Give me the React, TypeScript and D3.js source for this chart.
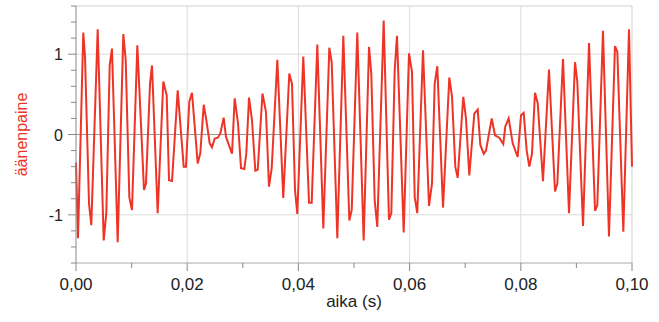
import React from "react";
import * as d3 from "d3";

const times = [
  0.0, 0.00036, 0.00131, 0.00162, 0.00234, 0.00275, 0.0039, 0.00498, 0.00545, 0.00606,
  0.00647, 0.0075, 0.00851, 0.00894, 0.00959, 0.01007, 0.01103, 0.01223, 0.01259, 0.01331,
  0.01367, 0.01469, 0.0157, 0.01631, 0.01673, 0.01727, 0.01829, 0.01937, 0.01978, 0.02038,
  0.02086, 0.02189, 0.02236, 0.02297, 0.02344, 0.02405, 0.02446, 0.02495, 0.02549, 0.02595,
  0.02656, 0.02698, 0.02806, 0.02854, 0.02914, 0.02968, 0.03027, 0.03063, 0.03112, 0.03165,
  0.03225, 0.03268, 0.03354, 0.03417, 0.03471, 0.0352, 0.03621, 0.03728, 0.03836, 0.03885,
  0.03939, 0.0398, 0.04088, 0.04191, 0.04239, 0.0434, 0.04448, 0.04556, 0.04599, 0.047,
  0.04808, 0.04916, 0.04959, 0.05059, 0.05174, 0.0527, 0.05311, 0.05372, 0.05419, 0.05534,
  0.05629, 0.05671, 0.05732, 0.05773, 0.05894, 0.05989, 0.06043, 0.06092, 0.06138, 0.06241,
  0.06349, 0.06403, 0.06451, 0.06498, 0.06601, 0.06714, 0.06763, 0.06822, 0.06865, 0.06966,
  0.07014, 0.07074, 0.07164, 0.07225, 0.07272, 0.07333, 0.07374, 0.07477, 0.07536, 0.07613,
  0.07685, 0.07721, 0.07782, 0.07854, 0.07944, 0.08004, 0.08052, 0.08106, 0.08153, 0.08201,
  0.08255, 0.08304, 0.08399, 0.08507, 0.08615, 0.08657, 0.08759, 0.08867, 0.08975, 0.09016,
  0.09119, 0.09227, 0.09335, 0.09376, 0.09478, 0.09586, 0.09694, 0.09736, 0.09844, 0.09946,
  0.1,
];

// sound pressure at each vertex
const pressure = [
  -0.35, -1.29, 1.27, 0.97, -0.86, -1.13, 1.31, -1.32, -0.98, 0.86,
  1.07, -1.34, 1.25, 0.93, -0.78, -0.94, 1.11, -0.69, -0.61, 0.63,
  0.86, -0.98, 0.66, 0.49, -0.57, -0.58, 0.55, -0.4, -0.4, 0.41,
  0.52, -0.36, -0.23, 0.37, 0.18, -0.11, -0.16, -0.05, -0.04, 0.01,
  0.21, -0.03, -0.24, 0.45, 0.14, -0.42, -0.43, -0.24, 0.46, 0.18,
  -0.45, -0.44, 0.51, 0.28, -0.65, -0.42, 0.93, -0.79, 0.76, 0.63,
  -0.69, -0.99, 0.97, -0.85, -0.85, 1.12, -1.17, 1.08, 0.9, -1.29,
  1.23, -1.07, -0.94, 1.27, -1.32, 1.09, 0.76, -0.82, -1.15, 1.42,
  -1.06, -0.98, 0.8, 1.23, -1.22, 1.01, 0.78, -0.78, -0.98, 1.05,
  -0.89, -0.61, 0.63, 0.85, -0.91, 0.71, 0.47, -0.4, -0.54, 0.47,
  0.2, -0.51, 0.26, 0.31, -0.13, -0.24, -0.2, 0.2, -0.01, -0.04,
  -0.12, 0.1, 0.2, -0.11, -0.28, 0.24, 0.27, -0.2, -0.4, -0.24,
  0.52, 0.39, -0.58, 0.81, -0.71, -0.61, 0.94, -0.98, 0.9, 0.66,
  -1.14, 1.14, -0.95, -0.88, 1.29, -1.27, 1.1, 1.03, -1.21, 1.31,
  -0.4,
];

const xMajorTicks = [0, 0.02, 0.04, 0.06, 0.08, 0.1];
const xMinorTicks = [0.01, 0.03, 0.05, 0.07, 0.09];
const yMajorTicks = [-1, 0, 1];
const yMinorTicks = [-1.6, -1.4, -1.2, -0.8, -0.6, -0.4, -0.2, 0.2, 0.4, 0.6, 0.8, 1.2, 1.4, 1.6];

const xTitle = "aika (s)";
const yTitle = "äänenpaine";

const W = 659;
const H = 322;
const M = { left: 76, right: 27, top: 6, bottom: 59 };
const FONT = "'Liberation Sans', Arial, sans-serif";
const RED = "#ee3427";

export default function App() {
  const x = d3.scaleLinear().domain([0, 0.1]).range([M.left, W - M.right]);
  const y = d3.scaleLinear().domain([-1.6, 1.6]).range([H - M.bottom, M.top]);
  const pts: [number, number][] = times.map((t, i) => [t, pressure[i]]);
  const line = d3
    .line<[number, number]>()
    .x((d) => x(d[0]))
    .y((d) => y(d[1]));
  const fmtX = (v: number) => v.toFixed(2).replace(".", ",");
  const x0 = M.left;
  const x1 = W - M.right;
  const y0 = H - M.bottom;
  const y1 = M.top;

  return (
    <svg
      width={W}
      height={H}
      style={{ position: "absolute", left: 0, top: 0, background: "#fff" }}
    >
      {/* grid */}
      {xMajorTicks.slice(1, -1).map((t) => (
        <line key={"gx" + t} x1={x(t)} x2={x(t)} y1={y1} y2={y0} stroke="#dcdcdc" strokeWidth={1} />
      ))}
      {[1, -1].map((v) => (
        <line key={"gy" + v} x1={x0} x2={x1} y1={y(v)} y2={y(v)} stroke="#dcdcdc" strokeWidth={1} />
      ))}
      <line x1={x0} x2={x1} y1={y1} y2={y1} stroke="#cfcfcf" />
      <line x1={x1} x2={x1} y1={y1} y2={y0} stroke="#cfcfcf" />
      <line x1={x0} x2={x1} y1={y(0)} y2={y(0)} stroke="#999" strokeWidth={1} />

      {/* data */}
      <path d={line(pts) || ""} fill="none" stroke={RED} strokeWidth={2} strokeLinejoin="miter" strokeMiterlimit={4} />

      {/* axes */}
      <line x1={x0} x2={x0} y1={y1} y2={y0} stroke="#888" />
      <line x1={x0} x2={x1} y1={y0} y2={y0} stroke="#aaa" />
      {yMinorTicks.map((v) => (
        <line key={"ymt" + v} x1={x0 - 5} x2={x0} y1={y(v)} y2={y(v)} stroke="#888" />
      ))}
      {yMajorTicks.map((v) => (
        <g key={"yt" + v}>
          <line x1={x0 - 8} x2={x0} y1={y(v)} y2={y(v)} stroke="#888" />
          <text x={x0 - 13} y={y(v) + 6} textAnchor="end" fontFamily={FONT} fontSize={16} fill="#222">
            {v}
          </text>
        </g>
      ))}
      {xMinorTicks.map((t) => (
        <line key={"xmt" + t} x1={x(t)} x2={x(t)} y1={y0} y2={y0 + 5} stroke="#888" />
      ))}
      {xMajorTicks.map((t) => (
        <g key={"xt" + t}>
          <line x1={x(t)} x2={x(t)} y1={y0} y2={y0 + 8} stroke="#888" />
          <text x={x(t)} y={y0 + 27} textAnchor="middle" fontFamily={FONT} fontSize={17} fill="#222">
            {fmtX(t)}
          </text>
        </g>
      ))}
      <text x={(x0 + x1) / 2} y={y0 + 44} textAnchor="middle" fontFamily={FONT} fontSize={17} fill="#222">
        {xTitle}
      </text>
      <text
        transform={`translate(27, ${y(0)}) rotate(-90)`}
        textAnchor="middle"
        fontFamily={FONT}
        fontSize={16}
        fill={RED}
      >
        {yTitle}
      </text>
    </svg>
  );
}
